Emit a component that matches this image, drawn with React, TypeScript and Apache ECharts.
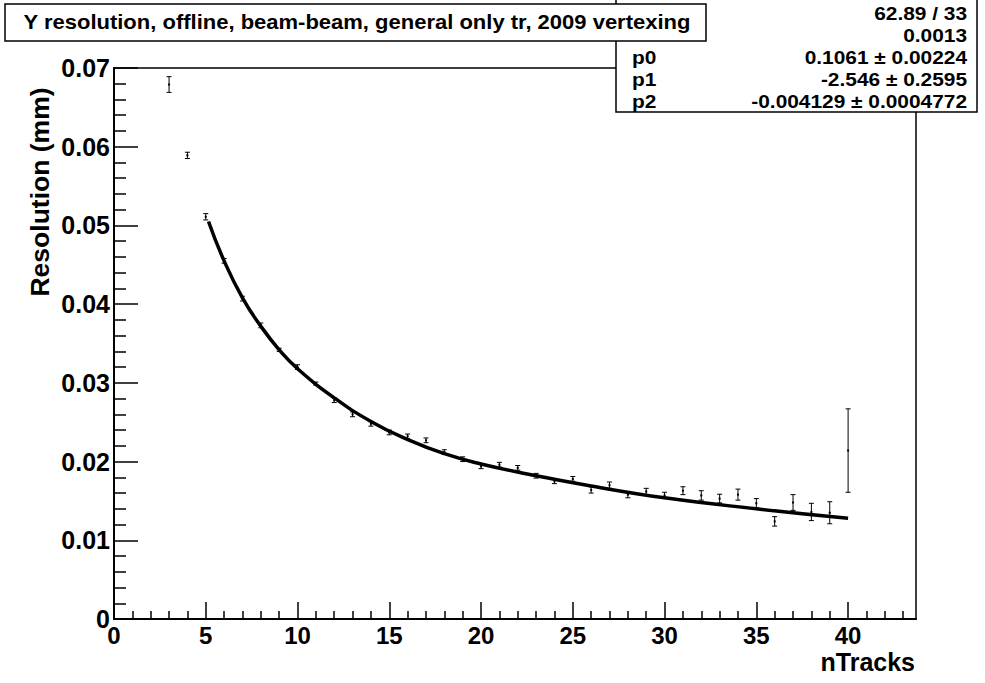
import React, { useEffect, useRef } from "react";
import * as echarts from "echarts";

const xValues = [3, 4, 5, 6, 7, 8, 9, 10, 11, 12, 13, 14, 15, 16, 17, 18, 19, 20, 21, 22, 23, 24, 25, 26, 27, 28, 29, 30, 31, 32, 33, 34, 35, 36, 37, 38, 39, 40];
const yValues = [0.0679, 0.0589, 0.0511, 0.0455, 0.0407, 0.0373, 0.0342, 0.0320, 0.0299, 0.0278, 0.0260, 0.0248, 0.0237, 0.0232, 0.0227, 0.0212, 0.0203, 0.0194, 0.0196, 0.0192, 0.0182, 0.0175, 0.0178, 0.0164, 0.0170, 0.0158, 0.0162, 0.0157, 0.0163, 0.0157, 0.0153, 0.0158, 0.0147, 0.0124, 0.0148, 0.0136, 0.0135, 0.0214];
const yErrors = [0.0010, 0.0004, 0.0004, 0.0003, 0.0003, 0.0003, 0.0002, 0.0003, 0.0002, 0.0003, 0.0003, 0.0003, 0.0003, 0.0003, 0.0003, 0.0003, 0.0003, 0.0003, 0.0003, 0.0003, 0.0003, 0.0003, 0.0003, 0.0004, 0.0004, 0.0004, 0.0004, 0.0004, 0.0005, 0.0006, 0.00055, 0.0007, 0.0006, 0.0006, 0.0010, 0.0011, 0.0014, 0.0053];

const fitX = [5.15, 6, 7, 8, 9, 10, 12, 14, 16, 18, 20, 23, 26, 30, 35, 40];
const fitY = [0.0505, 0.0455, 0.0408, 0.0372, 0.0342, 0.0318, 0.0281, 0.0251, 0.0228, 0.0210, 0.0197, 0.0182, 0.0169, 0.0154, 0.0140, 0.0128];

const xMajorTicks = [0, 5, 10, 15, 20, 25, 30, 35, 40];
const xMinorTicks = [1, 2, 3, 4, 6, 7, 8, 9, 11, 12, 13, 14, 16, 17, 18, 19, 21, 22, 23, 24, 26, 27, 28, 29, 31, 32, 33, 34, 36, 37, 38, 39, 41, 42, 43];

const titleText = "Y resolution, offline, beam-beam, general only tr, 2009 vertexing";
const statLabels = ["", "", "p0", "p1", "p2"];
const statValues = ["62.89 / 33", "0.0013", "0.1061 ± 0.00224", "-2.546 ± 0.2595", "-0.004129 ± 0.0004772"];

const FONT = "'Liberation Sans', Arial, Helvetica, sans-serif";

export default function App() {
  const ref = useRef<HTMLDivElement>(null);
  useEffect(() => {
    if (!ref.current) return;
    const chart = echarts.init(ref.current, null, { renderer: "svg" });
    const points = xValues.map((x, i) => [x, yValues[i], yErrors[i]]);
    const fitData = fitX.map((x, i) => [x, fitY[i]]);

    const gridLeft = 114, gridTop = 68, gridW = 802, gridH = 551;

    const statEls: any[] = [];
    statValues.forEach((v, i) => {
      const y = 14 + i * 21.8;
      if (statLabels[i]) {
        statEls.push({
          type: "text", z: 10, x: 632, y, scaleX: 1.16,
          style: { text: statLabels[i], font: `bold 18px ${FONT}`, fill: "#000", align: "left", verticalAlign: "middle" },
        });
      }
      statEls.push({
        type: "text", z: 10, x: 967, y, scaleX: 1.16,
        style: { text: v, font: `bold 18px ${FONT}`, fill: "#000", align: "right", verticalAlign: "middle" },
      });
    });

    chart.setOption({
      animation: false,
      backgroundColor: "#fff",
      grid: {
        left: gridLeft, top: gridTop, width: gridW, height: gridH,
        show: true, borderColor: "#000", borderWidth: 1.5, backgroundColor: "transparent",
      },
      xAxis: [
        {
          type: "value", min: 0, max: 43.7, interval: 5, position: "bottom",
          axisLine: { show: true, onZero: false, lineStyle: { color: "#000", width: 2 } },
          axisTick: { show: true, inside: true, length: 17, customValues: xMajorTicks, lineStyle: { color: "#000", width: 1.5 } },
          axisLabel: {
            show: true, customValues: xMajorTicks, margin: 4,
            color: "#000", fontFamily: FONT, fontWeight: "bold", fontSize: 24,
          },
          splitLine: { show: false },
        },
        {
          type: "value", min: 0, max: 43.7, interval: 5, position: "bottom", offset: 0,
          axisLine: { show: false },
          axisTick: { show: true, inside: true, length: 8, customValues: xMinorTicks, lineStyle: { color: "#000", width: 1.5 } },
          axisLabel: { show: false },
          splitLine: { show: false },
        },
      ],
      yAxis: {
        type: "value", min: 0, max: 0.07, interval: 0.01,
        axisLine: { show: true, onZero: false, lineStyle: { color: "#000", width: 2 } },
        axisTick: { show: true, inside: true, length: 24, lineStyle: { color: "#000", width: 1.5 } },
        minorTick: { show: true, splitNumber: 5, length: 12, lineStyle: { color: "#000", width: 1.5 } },
        axisLabel: {
          margin: 4, color: "#000", fontFamily: FONT, fontWeight: "bold", fontSize: 25,
          formatter: (v: number) => (Math.abs(v) < 1e-9 ? "0" : v.toFixed(2)),
        },
        splitLine: { show: false },
      },
      series: [
        {
          type: "line", xAxisIndex: 0, data: fitData, smooth: true, showSymbol: false,
          lineStyle: { color: "#000", width: 3.5 }, z: 3,
        },
        {
          type: "custom", xAxisIndex: 0, data: points, z: 4,
          encode: { x: 0, y: 1 },
          renderItem: (params: any, api: any) => {
            const x = api.value(0), y = api.value(1), e = api.value(2);
            const p = api.coord([x, y]);
            const hi = api.coord([x, y + e]);
            const lo = api.coord([x, y - e]);
            const hw = 2.5;
            const st = { stroke: "#000", lineWidth: 1 };
            return {
              type: "group",
              children: [
                { type: "line", shape: { x1: p[0], y1: hi[1], x2: p[0], y2: lo[1] }, style: st },
                { type: "line", shape: { x1: p[0] - hw, y1: hi[1], x2: p[0] + hw, y2: hi[1] }, style: st },
                { type: "line", shape: { x1: p[0] - hw, y1: lo[1], x2: p[0] + hw, y2: lo[1] }, style: st },
                { type: "rect", shape: { x: p[0] - 1, y: p[1] - 1, width: 2, height: 2 }, style: { fill: "#000" } },
              ],
            };
          },
        },
      ],
      graphic: [
        {
          type: "rect", z: 9, shape: { x: 616, y: -2, width: 361, height: 114 },
          style: { fill: "#fff", stroke: "#000", lineWidth: 1.5 },
        },
        ...statEls,
        {
          type: "rect", z: 20, shape: { x: 5, y: 4, width: 701, height: 37 },
          style: { fill: "#fff", stroke: "#000", lineWidth: 1.5 },
        },
        {
          type: "text", z: 21, x: 357, y: 22, scaleX: 1.1,
          style: { text: titleText, font: `bold 20px ${FONT}`, fill: "#000", align: "center", verticalAlign: "middle" },
        },
        {
          type: "text", z: 21, x: 40, y: 192, rotation: Math.PI / 2,
          style: { text: "Resolution (mm)", font: `bold 26.5px ${FONT}`, fill: "#000", align: "center", verticalAlign: "middle" },
        },
        {
          type: "text", z: 21, x: 915, y: 662,
          style: { text: "nTracks", font: `bold 25px ${FONT}`, fill: "#000", align: "right", verticalAlign: "middle" },
        },
      ],
    });
    return () => chart.dispose();
  }, []);
  return <div ref={ref} style={{ position: "fixed", left: 0, top: 0, width: 985, height: 683 }} />;
}
